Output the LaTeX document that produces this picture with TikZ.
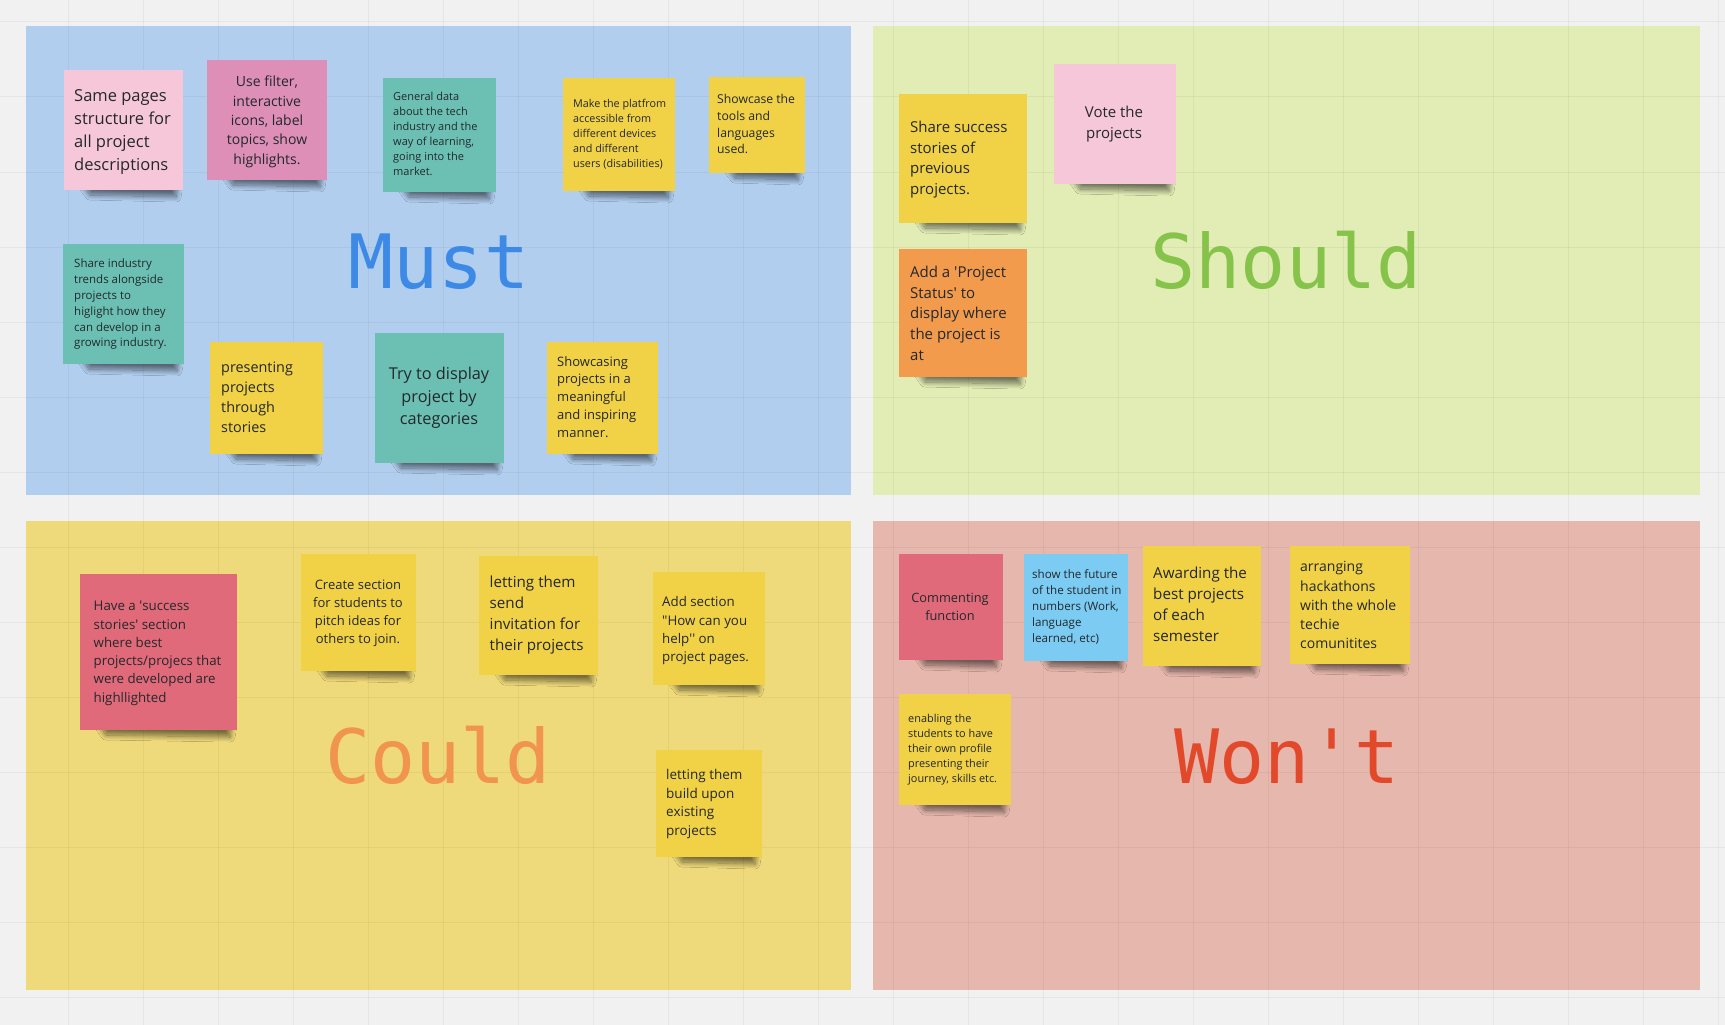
\documentclass[tikz,border=0pt]{standalone}
\usepackage{fontspec}
\setmainfont{Open Sans}
\newfontfamily\quadfont{DejaVu Sans Mono}
\usetikzlibrary{shadows.blur}

% board colours
\definecolor{canvas}{HTML}{F1F1F1}
\definecolor{mustbg}{HTML}{B1CEEE}
\definecolor{shouldbg}{HTML}{E2ECB5}
\definecolor{couldbg}{HTML}{EED97B}
\definecolor{wontbg}{HTML}{E6B7AC}
% heading colours
\definecolor{mustc}{HTML}{3D89E6}
\definecolor{shouldc}{HTML}{86C34A}
\definecolor{couldc}{HTML}{F0944F}
\definecolor{wontc}{HTML}{E2492B}
% sticky note colours
\definecolor{nyellow}{HTML}{F1D146}
\definecolor{nteal}{HTML}{6CC0B3}
\definecolor{npink}{HTML}{F6C7D9}
\definecolor{nrose}{HTML}{DD8FB7}
\definecolor{norange}{HTML}{F29B4C}
\definecolor{nred}{HTML}{E06A79}
\definecolor{nblue}{HTML}{7BCBF2}
\definecolor{ink}{HTML}{23282C}

\newcommand\notefont[2]{\fontsize{#1}{#2}\selectfont}

% #1 name, #2 left, #3 top, #4 right, #5 bottom, #6 colour
\newcommand\stickynote[6]{%
  \pgfmathsetmacro\notew{#4-#2}%
  \pgfmathsetmacro\noteh{#5-#3}%
  % soft curled shadow under the lower edge
  \path[noteshadow] ({#2+18},{#5-6}) -- ({#4-5},{#5-6}) -- ({#4-7},{#5+7})
    -- ({#2+26},{#5+5}) -- cycle;
  \node[notebox, fill=#6, minimum width=\notew pt, minimum height=\noteh pt,
        anchor=north west] (#1) at (#2,#3) {};}

\begin{document}
\begin{tikzpicture}[x=1pt, y=-1pt,
  noteshadow/.style={blur shadow={shadow xshift=0pt, shadow yshift=0pt,
      shadow opacity=50, shadow blur radius=5pt, shadow blur steps=14}},
  notebox/.style={rectangle, draw=none, inner sep=0pt},
  notetext/.style={inner sep=0pt, text=ink},
  lefttext/.style={notetext, anchor=north west, align=left},
  midtext/.style={notetext, anchor=north, align=center},
  quadlabel/.style={inner sep=0pt, anchor=base, font=\quadfont\fontsize{75}{82}\selectfont},
  gridline/.style={black, opacity=0.045, line width=1pt}]

\useasboundingbox (0,0) rectangle (1725,1025);
\fill[canvas] (0,0) rectangle (1725,1025);

% the four quadrants
\fill[mustbg]   (26,26)  rectangle (851,495);
\fill[shouldbg] (873,26) rectangle (1700,495);
\fill[couldbg]  (26,521) rectangle (851,990);
\fill[wontbg]   (873,521) rectangle (1700,990);

% board grid
\foreach \gx in {68,143,...,1720} \draw[gridline] (\gx,0) -- (\gx,1025);
\foreach \gy in {22,97,...,1025} \draw[gridline] (0,\gy) -- (1725,\gy);

% headings
\node[quadlabel, text=mustc]   (must)   at (439,288)  {Must};
\node[quadlabel, text=shouldc] (should) at (1286,288) {Should};
\node[quadlabel, text=couldc]  (could)  at (438,783)  {Could};
\node[quadlabel, text=wontc]   (wont)   at (1287,783) {Won\textquotesingle t};

% ---- Must ----
\stickynote{m1}{64}{70}{183}{190}{npink}
\node[lefttext, font=\notefont{16.5}{23}] (m1t) at (74,89)
  {Same pages\\structure for\\all project\\descriptions};
\stickynote{m2}{207}{60}{327}{180}{nrose}
\node[midtext, font=\notefont{14}{19.3}] (m2t) at (267,76)
  {Use filter,\\interactive\\icons, label\\topics, show\\highlights.};
\stickynote{m3}{383}{78}{496}{192}{nteal}
\node[lefttext, font=\notefont{11}{15}] (m3t) at (393,92)
  {General data\\about the tech\\industry and the\\way of learning,\\going into the\\market.};
\stickynote{m4}{563}{78}{675}{191}{nyellow}
\node[lefttext, font=\notefont{10.8}{14.9}] (m4t) at (573,99)
  {Make the platfrom\\accessible from\\different devices\\and different\\users (disabilities)};
\stickynote{m5}{709}{77}{805}{173}{nyellow}
\node[lefttext, font=\notefont{12.2}{16.8}] (m5t) at (717,94)
  {Showcase the\\tools and\\languages\\used.};
\stickynote{m6}{63}{244}{184}{364}{nteal}
\node[lefttext, font=\notefont{11.5}{15.8}] (m6t) at (74,259)
  {Share industry\\trends alongside\\projects to\\higlight how they\\can develop in a\\growing industry.};
\stickynote{m7}{210}{342}{323}{454}{nyellow}
\node[lefttext, font=\notefont{14.4}{19.8}] (m7t) at (221,362)
  {presenting\\projects\\through\\stories};
\stickynote{m8}{375}{333}{504}{463}{nteal}
\node[midtext, font=\notefont{16.3}{22.5}] (m8t) at (439,367)
  {Try to display\\project by\\categories};
\stickynote{m9}{547}{342}{658}{454}{nyellow}
\node[lefttext, font=\notefont{13}{17.9}] (m9t) at (557,356)
  {Showcasing\\projects in a\\meaningful\\and inspiring\\manner.};

% ---- Should ----
\stickynote{s1}{899}{94}{1027}{223}{nyellow}
\node[lefttext, font=\notefont{15}{20.7}] (s1t) at (910,121)
  {Share success\\stories of\\previous\\projects.};
\stickynote{s2}{1054}{64}{1176}{184}{npink}
\node[midtext, font=\notefont{15}{20.7}] (s2t) at (1114,106)
  {Vote the\\projects};
\stickynote{s3}{899}{249}{1027}{377}{norange}
\node[lefttext, font=\notefont{15}{20.7}] (s3t) at (910,266)
  {Add a \textquotesingle Project\\Status\textquotesingle{} to\\display where\\the project is\\at};

% ---- Could ----
\stickynote{c1}{80}{574}{237}{730}{nred}
\node[lefttext, font=\notefont{13.3}{18.3}] (c1t) at (93.5,601)
  {Have a \textquotesingle success\\stories\textquotesingle{} section\\where best\\projects/projecs that\\were developed are\\highllighted};
\stickynote{c2}{301}{554}{416}{671}{nyellow}
\node[midtext, font=\notefont{13}{18}] (c2t) at (358,580)
  {Create section\\for students to\\pitch ideas for\\others to join.};
\stickynote{c3}{479}{556}{598}{675}{nyellow}
\node[lefttext, font=\notefont{15.2}{21}] (c3t) at (489.5,575.5)
  {letting them\\send\\invitation for\\their projects};
\stickynote{c4}{653}{572}{765}{685}{nyellow}
\node[lefttext, font=\notefont{13.3}{18.3}] (c4t) at (662,596.5)
  {Add section\\\textquotedbl How can you\\help\textquotesingle\textquotesingle{} on\\project pages.};
\stickynote{c5}{656}{750}{762}{857}{nyellow}
\node[lefttext, font=\notefont{13.5}{18.7}] (c5t) at (666,769)
  {letting them\\build upon\\existing\\projects};

% ---- Won't ----
\stickynote{w1}{899}{554}{1003}{660}{nred}
\node[midtext, font=\notefont{12.8}{17.6}] (w1t) at (950,593)
  {Commenting\\function};
\stickynote{w2}{1024}{554}{1128}{661}{nblue}
\node[lefttext, font=\notefont{11.6}{16}] (w2t) at (1032,569.5)
  {show the future\\of the student in\\numbers (Work,\\language\\learned, etc)};
\stickynote{w3}{1143}{546}{1261}{666}{nyellow}
\node[lefttext, font=\notefont{15.2}{21}] (w3t) at (1153,567)
  {Awarding the\\best projects\\of each\\semester};
\stickynote{w4}{1290}{546}{1410}{664}{nyellow}
\node[lefttext, font=\notefont{14}{19.2}] (w4t) at (1300,561.5)
  {arranging\\hackathons\\with the whole\\techie\\comunitites};
\stickynote{w5}{899}{694}{1011}{805}{nyellow}
\node[lefttext, font=\notefont{10.9}{15}] (w5t) at (908,714)
  {enabling the\\students to have\\their own profile\\presenting their\\journey, skills etc.};

\end{tikzpicture}
\end{document}
